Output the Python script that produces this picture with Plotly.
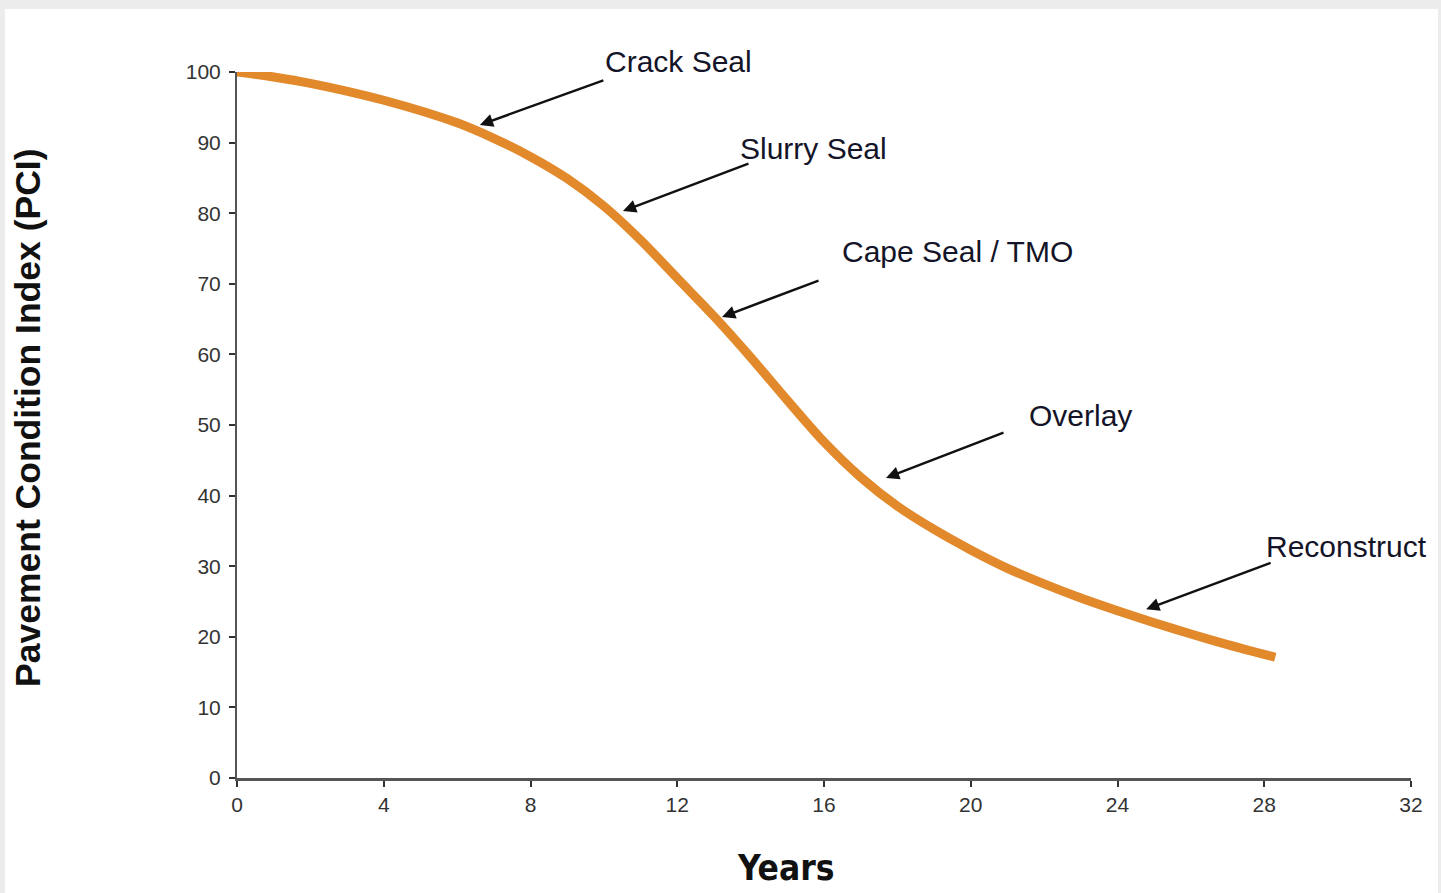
import plotly.graph_objects as go

# ---- data ----
years = [0, 1, 2, 4, 6, 7, 8, 9, 10, 11, 12, 13, 14, 15, 16, 17, 18, 19, 20, 21, 22, 23, 24, 25, 26, 27, 28.3]
pci = [100, 99.3, 98.4, 96.0, 92.8, 90.6, 88.0, 84.9, 81.0, 76.2, 70.8, 65.4, 59.6, 53.5, 47.6, 42.6, 38.5,
       35.2, 32.3, 29.7, 27.5, 25.5, 23.7, 22.0, 20.4, 18.9, 17.1]

treatments = ["Crack Seal", "Slurry Seal", "Cape Seal / TMO", "Overlay", "Reconstruct"]
treatment_years = [6.62, 10.52, 13.22, 17.69, 24.78]
treatment_pci = [92.5, 80.3, 65.3, 42.5, 23.9]

x_ticks = [0, 4, 8, 12, 16, 20, 24, 28, 32]
y_ticks = [0, 10, 20, 30, 40, 50, 60, 70, 80, 90, 100]

# ---- styling / layout (pixels) ----
W, H = 1441, 893
L, R, T, B = 237, 30, 72, 115
PW, PH = W - L - R, H - T - B

# arrow tail offsets relative to head (pixels) and label offsets relative to head
arrow_tail = [(125, -45), (127, -48), (98, -37), (119, -46), (126, -47)]
label_off = [(123, -63), (115, -63), (118, -65), (141, -62), (118, -63)]

fig = go.Figure()
fig.add_trace(go.Scatter(
    x=years, y=pci, mode="lines",
    line=dict(color="#E2892B", width=9, shape="spline", smoothing=0.8),
    cliponaxis=False, showlegend=False, hoverinfo="skip"))

annotations = []
for name, tx, ty, (ax, ay), (lx, ly) in zip(treatments, treatment_years, treatment_pci, arrow_tail, label_off):
    annotations.append(dict(
        x=tx, y=ty, xref="x", yref="y", text="", showarrow=True,
        ax=ax, ay=ay, axref="pixel", ayref="pixel",
        arrowhead=2, arrowsize=1.1, arrowwidth=2.4, arrowcolor="#111111",
        standoff=0, startstandoff=0))
    annotations.append(dict(
        x=tx, y=ty, xref="x", yref="y", text=name, showarrow=False,
        xshift=lx, yshift=-ly, xanchor="left", yanchor="middle",
        font=dict(family="Liberation Sans, Arial, sans-serif", size=30, color="#141428")))

# axis titles
annotations.append(dict(
    text="<b>Pavement Condition Index (PCI)</b>", xref="paper", yref="paper",
    x=(28 - L) / PW, y=(T + PH - 418) / PH,
    showarrow=False, textangle=-90, xanchor="center", yanchor="middle",
    font=dict(family="Liberation Sans, Arial, sans-serif", size=35.5, color="#111111")))
annotations.append(dict(
    text="<b>Years</b>", xref="paper", yref="paper",
    x=(785 - L) / PW, y=(T + PH - 868) / PH,
    showarrow=False, xanchor="center", yanchor="middle",
    font=dict(family="Liberation Sans Narrow, DejaVu Sans Condensed, Liberation Sans, sans-serif",
              size=35, color="#111111")))

tick_font = dict(family="Liberation Sans Narrow, Liberation Sans, sans-serif", size=21, color="#333333")

fig.update_layout(
    width=W, height=H,
    margin=dict(l=L, r=R, t=T, b=B, pad=0),
    paper_bgcolor="#ececec", plot_bgcolor="white",
    annotations=annotations,
    shapes=[dict(type="rect", xref="paper", yref="paper", layer="below",
                 x0=(5 - L) / PW, x1=(1438 - L) / PW,
                 y0=(T + PH - 893) / PH, y1=(T + PH - 9) / PH,
                 fillcolor="white", line=dict(width=0))],
    xaxis=dict(range=[0, 32], tickvals=x_ticks, ticktext=[str(v) for v in x_ticks],
               showgrid=False, zeroline=False, showline=True, linecolor="#555555", linewidth=3,
               ticks="outside", ticklen=6, tickwidth=1.5, tickcolor="#333333",
               tickfont=tick_font, ticklabelstandoff=0, fixedrange=True),
    yaxis=dict(range=[0, 100], tickvals=y_ticks, ticktext=[str(v) for v in y_ticks],
               showgrid=False, zeroline=False, showline=True, linecolor="#555555", linewidth=2,
               ticks="outside", ticklen=6, tickwidth=1.5, tickcolor="#333333",
               tickfont=tick_font, ticklabelstandoff=4, fixedrange=True),
)

fig.write_html("out.html", config={"displayModeBar": False},
               post_script="document.body.style.margin='0';document.body.style.overflow='hidden';")
